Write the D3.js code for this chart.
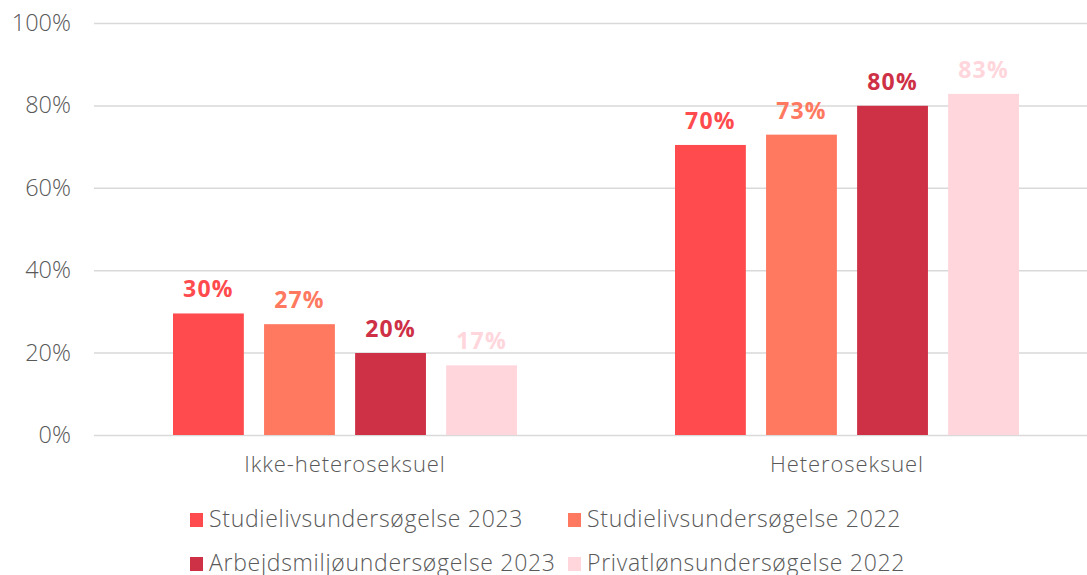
<!DOCTYPE html>
<html>
<head>
<meta charset="utf-8">
<script src="https://cdn.jsdelivr.net/npm/d3@7"></script>
<style>
  body { margin: 0; background: #fff; }
  svg { display: block; font-family: "Open Sans", Lato, sans-serif; }
</style>
</head>
<body>
<svg id="chart" width="1087" height="575"></svg>
<script>
// chart data
const categories = ['Ikke-heteroseksuel', 'Heteroseksuel'];
const seriesNames = [
  'Studielivsundersøgelse 2023',
  'Studielivsundersøgelse 2022',
  'Arbejdsmiljøundersøgelse 2023',
  'Privatlønsundersøgelse 2022',
];
const studieliv2023 = [0.295, 0.704];
const studieliv2022 = [0.269, 0.729];
const arbejdsmiljo2023 = [0.199, 0.799];
const privatlon2022 = [0.169, 0.828];
const yTicks = [0, 0.2, 0.4, 0.6, 0.8, 1];

const seriesValues = [studieliv2023, studieliv2022, arbejdsmiljo2023, privatlon2022];
const colors = ['#FF4B4D', '#FF7961', '#CE3046', '#FFD6DC'];

const Plot = { Left: 94, Right: 1098, Top: 23, Bottom: 435 };
const TextColor = '#595959';
const GroupWidth = 344;

const svg = d3.select('#chart');

const x = d3.scaleBand()
    .domain(categories)
    .range([Plot.Left, Plot.Right]);

// inner band for the four series within a category
const xInner = d3.scaleBand()
    .domain(d3.range(seriesNames.length))
    .range([0, GroupWidth])
    .paddingInner(0.222);

const y = d3.scaleLinear()
    .domain([0, 1])
    .range([Plot.Bottom, Plot.Top]);

// gridlines + y labels
const yAxis = d3.axisLeft(y)
    .tickValues(yTicks)
    .tickFormat(d3.format('.0%'))
    .tickSize(-(1087 - Plot.Left))
    .tickPadding(23);

svg.append('g')
    .attr('transform', `translate(${Plot.Left},0)`)
    .call(yAxis)
    .call(g => g.select('.domain').remove())
    .call(g => g.selectAll('.tick line').attr('stroke', '#D9D9D9').attr('stroke-width', 1.5))
    .call(g => g.selectAll('.tick text')
        .attr('fill', TextColor)
        .attr('font-size', 23.5)
        .attr('font-weight', 300)
        .attr('font-family', '"Open Sans", sans-serif'));

// bars
const groups = svg.append('g')
    .selectAll('g')
    .data(categories)
    .join('g')
    .attr('transform', d => `translate(${x(d) + (x.bandwidth() - GroupWidth) / 2},0)`);

groups.each(function (cat, i) {
    const g = d3.select(this);
    const data = seriesValues.map((vals, s) => ({ s, v: vals[i] }));
    g.selectAll('rect')
        .data(data)
        .join('rect')
        .attr('x', d => xInner(d.s))
        .attr('width', xInner.bandwidth())
        .attr('y', d => y(d.v))
        .attr('height', d => y(0) - y(d.v))
        .attr('fill', d => colors[d.s]);

    g.selectAll('text')
        .data(data)
        .join('text')
        .attr('x', d => xInner(d.s) + xInner.bandwidth() / 2)
        .attr('y', d => y(d.v) - 16)
        .attr('text-anchor', 'middle')
        .attr('font-weight', 'bold')
        .attr('font-size', 23)
        .attr('letter-spacing', 1.2)
        .attr('fill', d => colors[d.s])
        .text(d => d3.format('.0%')(d.v));
});

// category labels
svg.append('g')
    .selectAll('text')
    .data(categories)
    .join('text')
    .attr('x', d => x(d) + x.bandwidth() / 2)
    .attr('y', 472)
    .attr('text-anchor', 'middle')
    .attr('font-size', 22)
    .attr('font-weight', 300)
    .attr('letter-spacing', 0.9)
    .attr('fill', TextColor)
    .text(d => d);

// legend, 2 x 2
const legend = svg.append('g')
    .selectAll('g')
    .data(seriesNames)
    .join('g')
    .attr('transform', (d, i) => `translate(${i % 2 === 0 ? 190 : 568},${i < 2 ? 527 : 571})`);

legend.append('rect')
    .attr('x', 0)
    .attr('y', -14)
    .attr('width', 13)
    .attr('height', 14)
    .attr('fill', (d, i) => colors[i]);

legend.append('text')
    .attr('x', 19)
    .attr('y', 0)
    .attr('font-size', 23)
    .attr('font-weight', 300)
    .attr('letter-spacing', 0.7)
    .attr('fill', TextColor)
    .text(d => d);
</script>
</body>
</html>
